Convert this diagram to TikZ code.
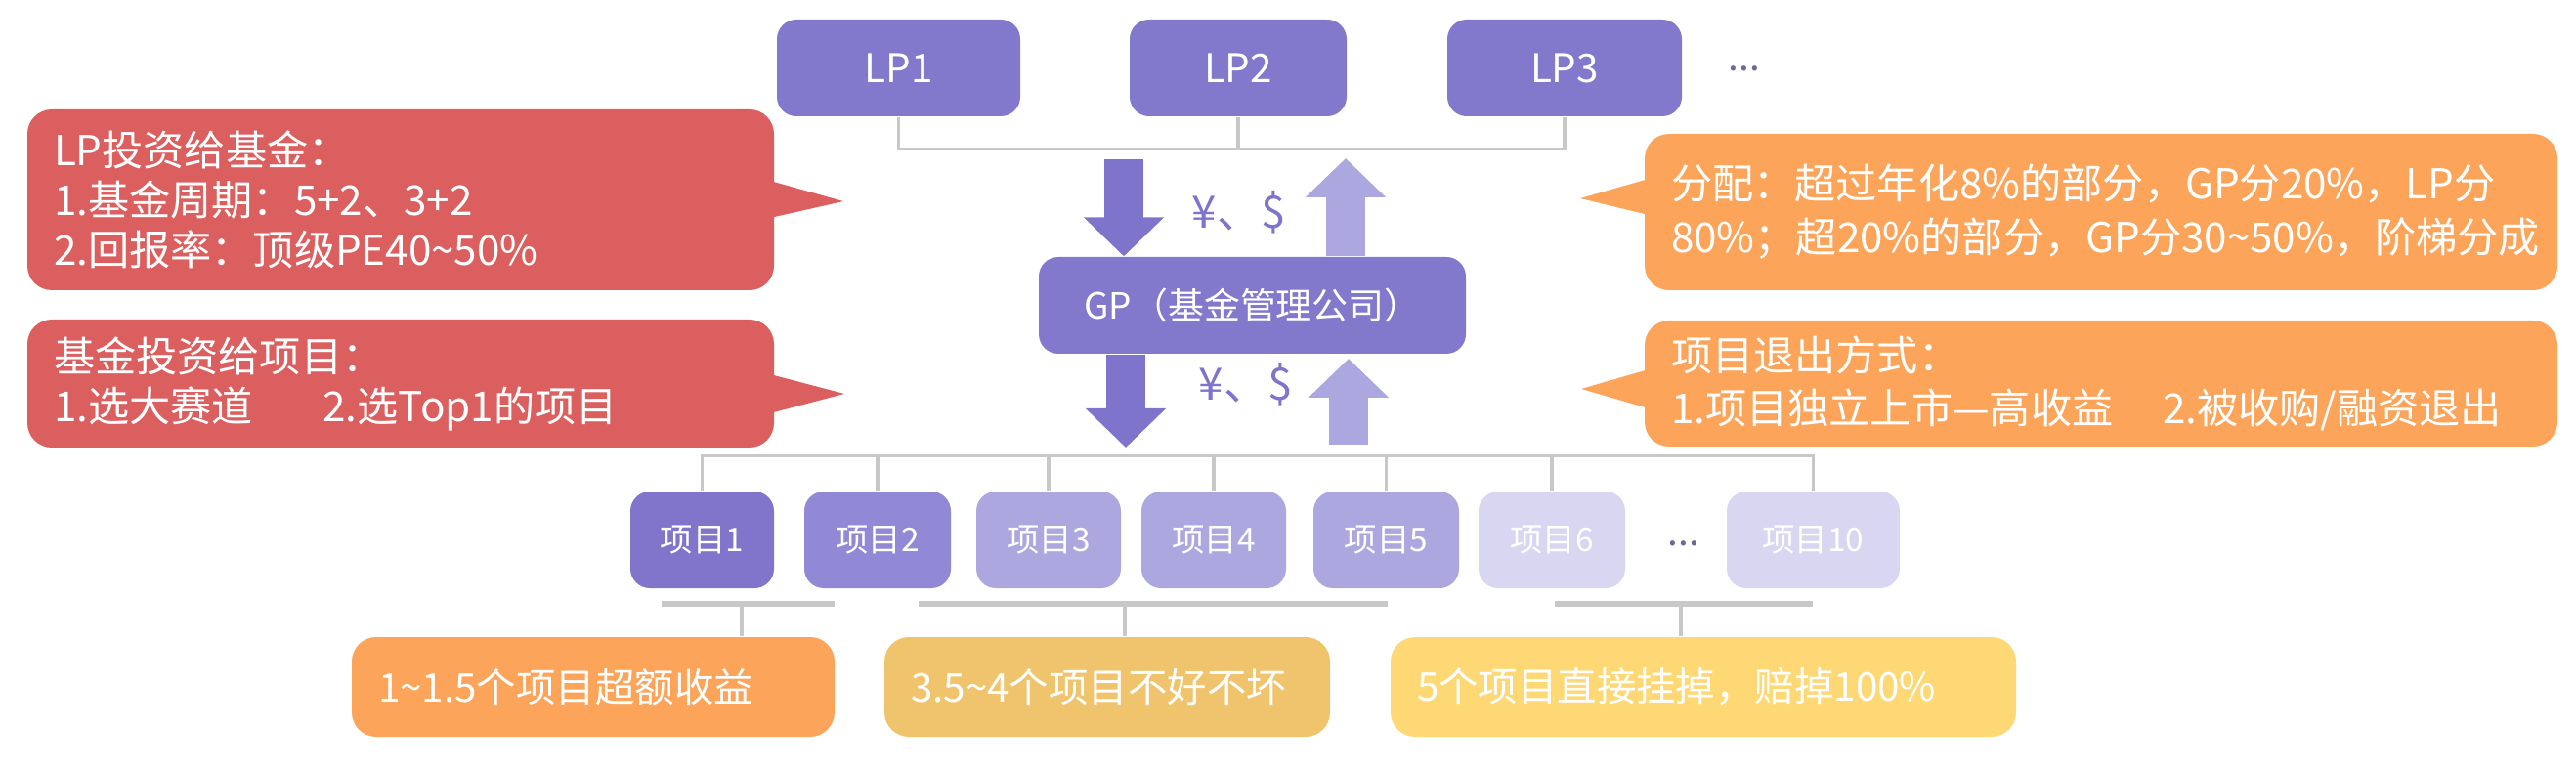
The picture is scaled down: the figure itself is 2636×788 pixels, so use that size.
\documentclass[tikz,border=0pt]{standalone}
\usepackage{fontspec}
\setmainfont{Noto Sans CJK SC}
\usetikzlibrary{arrows.meta}

\definecolor{lpcol}{RGB}{130,121,205}
\definecolor{updark}{RGB}{126,116,203}
\definecolor{uplight}{RGB}{173,167,223}
\definecolor{projA}{RGB}{128,117,203}
\definecolor{projB}{RGB}{145,137,214}
\definecolor{projC}{RGB}{173,167,223}
\definecolor{projD}{RGB}{217,214,241}
\definecolor{notered}{RGB}{220,95,95}
\definecolor{noteorange}{RGB}{251,164,90}
\definecolor{notegold}{RGB}{240,196,108}
\definecolor{noteyellow}{RGB}{253,216,116}
\definecolor{linegray}{RGB}{200,200,200}
\definecolor{dotcol}{RGB}{110,104,150}

\begin{document}
\begin{tikzpicture}[x=0.1mm, y=-0.1mm,
		box/.style={rounded corners=2mm, text=white, inner sep=0pt, minimum height=9.9mm},
		note/.style={rounded corners=2.5mm, text=white, align=left, inner xsep=2.7mm, inner ysep=0pt},
		conn/.style={draw=linegray, line width=0.9pt},
		money/.style={line width=4mm, -{Triangle[width=8mm,length=4mm]}}]

		%%% canvas
		\useasboundingbox (0,0) rectangle (2636,788);

		%% LP row
		\node[box, fill=lpcol, minimum width=24.9mm, font=\fontsize{11.5}{12}\selectfont] (lp1) at (919.5,69.5) {LP1};
		\node[box, fill=lpcol, minimum width=22.2mm, font=\fontsize{11.5}{12}\selectfont] (lp2) at (1267,69.5) {LP2};
		\node[box, fill=lpcol, minimum width=24mm, font=\fontsize{11.5}{12}\selectfont] (lp3) at (1601,69.5) {LP3};
		\node[text=dotcol, anchor=base, font=\fontsize{11}{12}\selectfont] (lpmore) at (1785,73) {...};

		% bracket under the LPs
		\draw[conn] (lp1.south) -- ++(0,33) -| (lp3.south);
		\draw[conn] (lp2.south) -- ++(0,33);

		%% GP
		\node[box, fill=lpcol, minimum width=43.7mm, font=\fontsize{10.5}{12}\selectfont] (gp) at (1281.5,312.5) {GP（基金管理公司）};

		% money in / out
		\coordinate (d1) at (1150,163);
		\coordinate (u1) at (1377,162);
		\coordinate (d2) at (1152,458);
		\coordinate (u2) at (1380,367);
		\draw[money, updark] (d1) -- (d1 |- gp.north);
		\draw[money, uplight] (u1 |- gp.north) -- (u1);
		\draw[money, updark] (d2 |- gp.south) -- (d2);
		\draw[money, uplight] (u2 |- 0,455) -- (u2);
		\node[text=updark, font=\fontsize{13}{13}\selectfont] (cash1) at (1268,217) {¥、\$};
		\node[text=updark, font=\fontsize{13}{13}\selectfont] (cash2) at (1275,393) {¥、\$};

		%% projects
		\node[box, fill=projA, minimum width=14.7mm, font=\fontsize{9.5}{12}\selectfont] (p1) at (718.5,552.5) {项目1};
		\node[box, fill=projB, minimum width=15mm, font=\fontsize{9.5}{12}\selectfont] (p2) at (898,552.5) {项目2};
		\node[box, fill=projC, minimum width=14.8mm, font=\fontsize{9.5}{12}\selectfont] (p3) at (1073,552.5) {项目3};
		\node[box, fill=projC, minimum width=14.8mm, font=\fontsize{9.5}{12}\selectfont] (p4) at (1242,552.5) {项目4};
		\node[box, fill=projC, minimum width=14.9mm, font=\fontsize{9.5}{12}\selectfont] (p5) at (1418.5,552.5) {项目5};
		\node[box, fill=projD, minimum width=15mm, font=\fontsize{9.5}{12}\selectfont] (p6) at (1588,552.5) {项目6};
		\node[text=dotcol, anchor=base, font=\fontsize{11}{12}\selectfont] (pmore) at (1723,558) {...};
		\node[box, fill=projD, minimum width=17.7mm, font=\fontsize{9.5}{12}\selectfont] (p10) at (1855.5,552.5) {项目10};

		% bracket over the projects
		\draw[conn] (p1.north) -- ++(0,-36) -| (p10.north);
		\draw[conn] (p2.north) -- ++(0,-36);
		\draw[conn] (p3.north) -- ++(0,-36);
		\draw[conn] (p4.north) -- ++(0,-36);
		\draw[conn] (p5.north) -- ++(0,-36);
		\draw[conn] (p6.north) -- ++(0,-36);

		%% outcomes
		\node[note, fill=noteorange, text width=44mm, minimum height=10.2mm, font=\fontsize{11.5}{12}\selectfont] (r1) at (607,703) {1\textasciitilde1.5个项目超额收益};
		\node[note, fill=notegold, text width=40.2mm, minimum height=10.2mm, font=\fontsize{11.5}{12}\selectfont] (r2) at (1133,703) {3.5\textasciitilde4个项目不好不坏};
		\node[note, fill=noteyellow, text width=58.6mm, minimum height=10.2mm, font=\fontsize{11.5}{12}\selectfont] (r3) at (1743,703) {5个项目直接挂掉，赔掉100\%};

		% group lines
		\draw[draw=linegray, line width=1.6pt] (677,618) -- (854,618);
		\draw[draw=linegray, line width=1.6pt] (940,618) -- (1420,618);
		\draw[draw=linegray, line width=1.6pt] (1591,618) -- (1855,618);
		\coordinate (g1) at (759,618);
		\coordinate (g2) at (1151,618);
		\coordinate (g3) at (1720,618);
		\draw[conn] (g1) -- (g1 |- r1.north);
		\draw[conn] (g2) -- (g2 |- r2.north);
		\draw[conn] (g3) -- (g3 |- r3.north);

		%% left notes
		\node[note, fill=notered, text width=71mm, minimum height=18.5mm, font=\fontsize{12}{14.5}\selectfont] (c1) at (410,204.5) {LP投资给基金：\\1.基金周期：5+2、3+2\\2.回报率：顶级PE40\textasciitilde50\%};
		\fill[notered] (788,185) -- (863,206) -- (788,223) -- cycle;

		\node[note, fill=notered, text width=71mm, minimum height=13.1mm, font=\fontsize{12}{14.5}\selectfont] (c2) at (410,392.5) {基金投资给项目：\\\mbox{1.选大赛道\hspace{1.7em}2.选Top1的项目}};
		\fill[notered] (788,383) -- (864,403) -- (788,423) -- cycle;

		%% right notes
		\node[note, fill=noteorange, text width=88mm, minimum height=16mm, font=\fontsize{12}{15.6}\selectfont] (c3) at (2150,217) {分配：超过年化8\%的部分，GP分20\%，LP分\\80\%；超20\%的部分，GP分30\textasciitilde50\%，阶梯分成};
		\fill[noteorange] (1687,183) -- (1617,203) -- (1687,220) -- cycle;

		\node[note, fill=noteorange, text width=88mm, minimum height=12.9mm, font=\fontsize{12}{15.6}\selectfont] (c4) at (2150,392.5) {项目退出方式：\\\mbox{1.项目独立上市—高收益\hspace{1.2em}2.被收购/融资退出}};
		\fill[noteorange] (1687,378) -- (1618,398) -- (1687,418) -- cycle;
	\end{tikzpicture}
\end{document}
